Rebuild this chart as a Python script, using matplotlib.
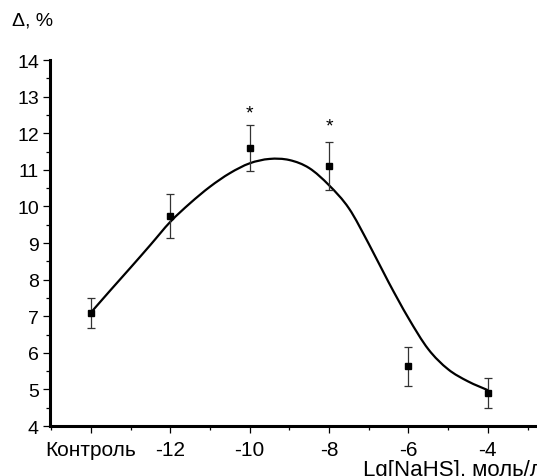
import matplotlib
matplotlib.use('Agg')
import matplotlib.pyplot as plt
from matplotlib.ticker import MultipleLocator
from matplotlib.path import Path
from matplotlib.patches import PathPatch
import numpy as np

plt.rcParams['font.family'] = ['Liberation Sans', 'DejaVu Sans']

# measured points (x = lg concentration, control placed at -14)
x_pts = [-14, -12, -10, -8, -6, -4]
y_pts = [7.1, 9.75, 11.6, 11.1, 5.63, 4.9]
y_err = [0.41, 0.6, 0.62, 0.66, 0.54, 0.4]
x_labels = ['Контроль', '-12', '-10', '-8', '-6', '-4']

# fitted curve
curve_x = [-14, -13.5, -13, -12.5, -12, -11.5, -11, -10.5, -10, -9.5, -9,
           -8.5, -8, -7.5, -7, -6.5, -6, -5.5, -5, -4.5, -4]
curve_y = [7.1, 7.72, 8.33, 8.95, 9.58, 10.09, 10.54, 10.91, 11.18, 11.3, 11.27,
           11.05, 10.58, 9.95, 8.98, 7.93, 6.95, 6.1, 5.55, 5.22, 4.98]

# significance marks
star_x = [-10, -8]
star_y = [12.55, 12.2]

fig = plt.figure(figsize=(5.37, 4.77), dpi=100)
ax = fig.add_axes([0.0931, 0.1048, 0.907, 0.767])

# smooth curve through the read points (cubic bezier segments)
P = np.column_stack([curve_x, curve_y])
Pext = np.vstack([P[0], P, P[-1]])
verts = [tuple(P[0])]
codes = [Path.MOVETO]
for i in range(len(P) - 1):
    p0, p1, p2, p3 = Pext[i], Pext[i + 1], Pext[i + 2], Pext[i + 3]
    c1 = p1 + (p2 - p0) / 6
    c2 = p2 - (p3 - p1) / 6
    verts += [tuple(c1), tuple(c2), tuple(p2)]
    codes += [Path.CURVE4] * 3
ax.add_patch(PathPatch(Path(verts, codes), fill=False, edgecolor='black',
                       lw=1.6, zorder=2))

ax.errorbar(x_pts, y_pts, yerr=y_err, fmt='none', ecolor='#333333',
            elinewidth=0.9, capsize=3.2, capthick=0.9, zorder=3)
ax.plot(x_pts, y_pts, 's', color='black', ms=5, zorder=4)

for sx, sy in zip(star_x, star_y):
    ax.text(sx, sy, '*', ha='center', va='center', fontsize=14)

ax.set_xlim(-15.03, -2.76)
ax.set_ylim(4, 14)

for s in ['top', 'right']:
    ax.spines[s].set_visible(False)
for s in ['left', 'bottom']:
    ax.spines[s].set_linewidth(2.2)

ax.set_xticks(x_pts)
ax.set_xticklabels(x_labels)
ax.xaxis.set_minor_locator(MultipleLocator(1))
ax.yaxis.set_major_locator(MultipleLocator(1))
ax.yaxis.set_minor_locator(MultipleLocator(0.5))
ax.tick_params(axis='both', which='major', length=5, width=0.9,
               direction='out')
ax.tick_params(axis='both', which='minor', length=3, width=0.9, direction='out')
ax.tick_params(axis='x', which='major', pad=5, labelsize=15)
ax.tick_params(axis='y', which='major', pad=3, labelsize=14)

fig.text(12 / 537, 1 - 21 / 477, 'Δ, %', fontsize=14, ha='left', va='center')
fig.text(363 / 537, 1 - 476 / 477, 'Lg[NaHS], моль/л', fontsize=16,
         ha='left', va='baseline')

fig.savefig('out.png', dpi=100)
